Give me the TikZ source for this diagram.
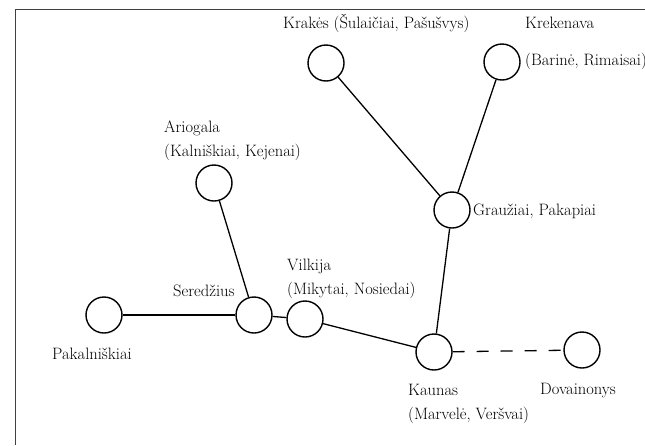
\documentclass[tikz,border=0pt]{standalone}
\usepackage{fontspec}
\tikzset{
    town/.style={draw, circle, line width=1.4pt, minimum size=36pt, inner sep=0pt},
    lbl/.style={anchor=base west, inner sep=0pt, align=left, font=\fontsize{16.5}{24}\selectfont},
    road/.style={line width=1.3pt},
    ferry/.style={line width=1.3pt, dash pattern=on 12pt off 12pt}
}
\begin{document}
\begin{tikzpicture}[x=1pt, y=-1pt]
    \useasboundingbox (0, 0) rectangle (645, 445);
    \clip (0, 0) rectangle (645, 445);
    \draw[black!75, line width=1pt] (15, 445) -- (15, 9) -- (645, 9);

    \node[town] (krakes) at (326, 63) {};
    \node[town] (krekenava) at (502, 62) {};
    \node[town] (grauziai) at (452, 210) {};
    \node[town] (ariogala) at (214, 183) {};
    \node[town] (seredzius) at (254, 315) {};
    \node[town] (vilkija) at (305, 319) {};
    \node[town] (pakalniskiai) at (104, 315) {};
    \node[town] (kaunas) at (434, 352) {};
    \node[town] (dovainonys) at (582, 350) {};

    \node[lbl] (krakesLbl) at (283, 28) {Krakės (Šulaičiai, Pašušvys)};
    \node[lbl] (krekenavaLbl) at (525, 28) {Krekenava};
    \node[lbl] (krekenavaLblB) at (525, 65) {(Barinė, Rimaisai)};
    \node[lbl] (grauziaiLbl) at (473, 215) {Graužiai, Pakapiai};
    \node[lbl] (ariogalaLbl) at (164, 156) {Ariogala\\(Kalniškiai, Kejenai)};
    \node[lbl] (seredziusLbl) at (173, 296) {Seredžius};
    \node[lbl] (vilkijaLbl) at (287, 294) {Vilkija\\(Mikytai, Nosiedai)};
    \node[lbl] (pakalniskiaiLbl) at (52, 359) {Pakalniškiai};
    \node[lbl] (kaunasLbl) at (408, 419) {Kaunas\\(Marvelė, Veršvai)};
    \node[lbl] (dovainonysLbl) at (540, 394) {Dovainonys};

    \draw[road] (pakalniskiai) -- (seredzius);
    \draw[road] (seredzius) -- (vilkija);
    \draw[road] (seredzius) -- (ariogala);
    \draw[road] (vilkija) -- (kaunas);
    \draw[road] (kaunas) -- (grauziai);
    \draw[road] (grauziai) -- (krakes);
    \draw[road] (grauziai) -- (krekenava);
    \draw[ferry] (kaunas) -- (dovainonys);
\end{tikzpicture}
\end{document}
